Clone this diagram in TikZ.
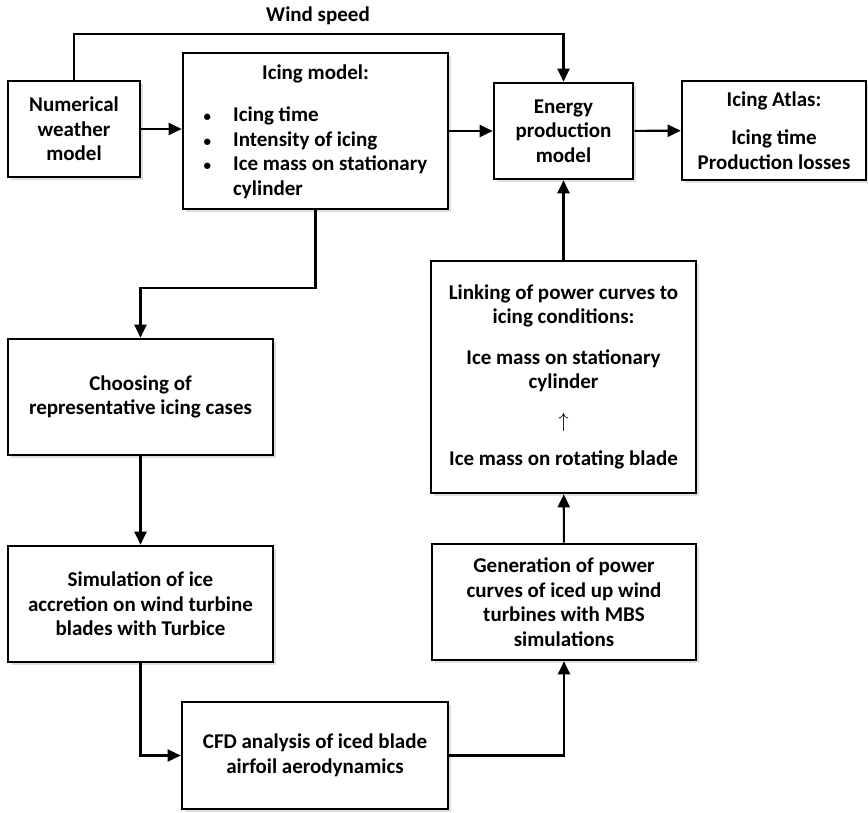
\documentclass[tikz,border=0pt]{standalone}
\usepackage{fontspec}
\setmainfont{Carlito}
\usepackage{tikz}
\usetikzlibrary{arrows.meta,positioning,shadows,calc}

\begin{document}
\begin{tikzpicture}[x=1pt,y=-1pt,
    box/.style={draw,line width=2.6pt,fill=white,align=center,inner sep=2pt,
      font=\fontsize{21}{24.5}\selectfont\bfseries,
      drop shadow={opacity=0.25,shadow xshift=3pt,shadow yshift=-3pt}},
    arr/.style={line width=2.1pt,-{Triangle[length=13pt,width=12pt]}}]
          \useasboundingbox (0,0) rectangle (868,813);

          % top row
          \node[box,minimum width=132pt,minimum height=96pt] (nwm) at (74,129)
            {Numerical\\weather\\model};
          \node[box,minimum width=265pt,minimum height=156pt] (icing) at (315.5,131)
            {Icing model:\\[21pt]
             \begin{tabular}{@{}l@{\hspace{22pt}}l@{}}
               {\fontsize{15}{15}\selectfont\textbullet} & Icing time\\
               {\fontsize{15}{15}\selectfont\textbullet} & Intensity of icing\\
               {\fontsize{15}{15}\selectfont\textbullet} & Ice mass on stationary\\
                                   & cylinder
             \end{tabular}\\[-6pt]};
          \node[box,minimum width=139pt,minimum height=96pt] (energy) at (563.5,131)
            {Energy\\production\\model};
          \node[box,minimum width=184pt,minimum height=99pt] (atlas) at (774,130.5)
            {Icing Atlas:\\[14pt]Icing time\\Production losses};

          % left column
          \node[box,minimum width=265pt,minimum height=116pt] (choosing) at (140.5,397)
            {Choosing of\\representative icing cases};
          \node[box,minimum width=265pt,minimum height=116pt] (sim) at (140.5,604)
            {Simulation of ice\\accretion on wind turbine\\blades with Turbice};
          \node[box,minimum width=266pt,minimum height=107pt] (cfd) at (315,755.5)
            {CFD analysis of iced blade\\airfoil aerodynamics};

          % right column
          \node[box,minimum width=264pt,minimum height=116pt] (gen) at (564,602)
            {Generation of power\\curves of iced up wind\\turbines with MBS\\simulations};
          \node[box,minimum width=265pt,minimum height=232pt] (linking) at (563.5,377)
            {Linking of power curves to\\icing conditions:\\[16pt]
             Ice mass on stationary\\cylinder\\[14pt]
             $\uparrow$\\[14pt]
             Ice mass on rotating blade};

          \coordinate (ws) at (0,34);
          \node[font=\fontsize{21}{24.5}\selectfont\bfseries] (wslabel) at (318,16) {Wind speed};

          \draw[arr] (nwm.north) -- (nwm.north |- ws) -| (energy.north);
          \draw[arr] (nwm.east) -- (nwm.east -| icing.west);
          \draw[arr] (icing.east |- energy.west) -- (energy.west);
          \draw[arr] (energy) -- (atlas);
          \draw[arr] (icing.south) -- ++(0,78) -| (choosing.north);
          \draw[arr] (choosing) -- (sim);
          \draw[arr] (sim.south) |- (cfd.west);
          \draw[arr] (cfd.east) -| (gen.south);
          \draw[arr] (gen) -- (linking);
          \draw[arr] (linking) -- (energy);
        \end{tikzpicture}
\end{document}
